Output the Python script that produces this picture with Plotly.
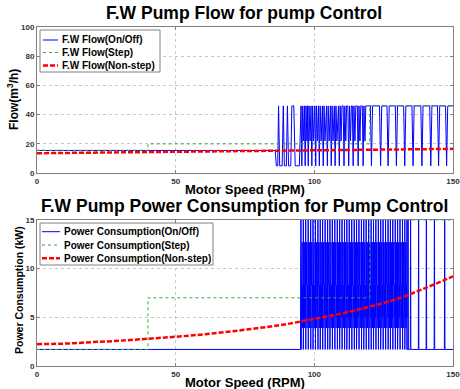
import plotly.graph_objects as go

# ---------------- data ----------------
rpm_grid = [0, 10, 20, 30, 40, 50, 60, 70, 80, 90, 100, 110, 120, 130, 140, 150]
flow_nonstep = [13.6, 13.8, 14.0, 14.2, 14.4, 14.6, 14.8, 15.0, 15.2, 15.4, 15.6, 15.8, 16.0, 16.2, 16.4, 16.6]
power_nonstep = [2.24, 2.3, 2.45, 2.6, 2.8, 3.0, 3.25, 3.55, 3.9, 4.3, 4.85, 5.4, 6.1, 6.9, 8.0, 9.2]

flow_step_x = [0, 40, 40, 120, 120, 150]
flow_step_y = [15.6, 15.6, 20.0, 20.0, 46.0, 46.0]
power_step_x = [0, 40, 40, 120, 120, 150]
power_step_y = [1.7, 1.7, 7.0, 7.0, 15.0, 15.0]

# On/Off flow: start-up section vertices
flow_start_x = [0, 85.9, 86.3, 86.8, 87.1, 87.5, 88.4, 88.8, 89.2, 89.9, 90.3, 90.7, 91.5, 91.9, 92.6, 93.1, 94.6]
flow_start_y = [15.5, 15.5, 5, 5, 46, 5, 5, 46, 5, 5, 46, 5, 5, 46, 46, 5, 5]
# dense section dips (to bottom) and partial dips
flow_dense_dips = [95.5, 96.7, 97.8, 99.1, 100.5, 101.8, 103.2, 104.7, 106.1, 107.5, 109.0,
                   110.7, 112.4, 114.0, 115.8, 117.6]
flow_partial_level = 22
# sparse section dips with flat tops
flow_sparse_dips = [120.6, 123.9, 126.6, 129.6, 132.6, 135.6, 138.8, 142.0, 144.8, 147.7]
flow_on, flow_off = 46, 5

# On/Off power
power_base = 1.7
power_dense_spikes = [95.2, 96.0, 96.9, 97.8, 98.7, 99.5, 100.4, 101.3, 102.1, 103.0, 103.9,
                      104.8, 105.6, 106.5, 107.4, 108.3, 109.1, 110.0, 110.9, 111.7, 112.6,
                      113.5, 114.4, 115.2, 116.1, 117.0, 117.8, 118.7, 119.6, 120.5, 121.3,
                      122.2, 123.1, 123.9, 124.8, 125.7, 126.6, 127.4, 128.3, 129.2, 130.0,
                      130.9, 131.8, 132.6]
# levels visited inside one cycle and their offsets (RPM) from the cycle start
power_levels = [20, 1.7, 12.7, 8.3, 12.7, 3.9, 8.3, 5.0, 20]
power_level_offsets = [0.0, 0.02, 0.05, 0.22, 0.4, 0.45, 0.62, 0.8, 0.84]
power_sparse_spikes = [133.8, 134.7, 137.6, 140.4, 143.3, 147.0]

# ---------------- build on/off polylines ----------------
fx = list(flow_start_x)
fy = list(flow_start_y)
for d in flow_dense_dips:
    fx += [d - 0.3, d, d + 0.3, d + 0.65, d + 0.95]
    fy += [flow_on, flow_off, flow_on, flow_partial_level, flow_on]
fx += [119.5]
fy += [flow_on]
for d in flow_sparse_dips:
    fx += [d - 0.4, d, d + 0.4]
    fy += [flow_on, flow_off, flow_on]
fx += [150]
fy += [flow_on]

px = [0, 95.0]
py = [power_base, power_base]
for s in power_dense_spikes:
    for off, lv in zip(power_level_offsets, power_levels):
        px.append(s + off)
        py.append(lv)
px += [133.2, 133.3]
py += [20, power_base]
for s in power_sparse_spikes:
    px += [s - 0.1, s, s + 0.1]
    py += [power_base, 20, power_base]
px.append(150)
py.append(power_base)

BLUE = "#0000ff"
GREEN = "#33aa33"
RED = "#ff0000"
RED_DASH = "5px,2px"

fig = go.Figure()
fig.add_trace(go.Scatter(x=fx, y=fy, mode="lines", line=dict(color=BLUE, width=1),
                         name="F.W Flow(On/Off)", xaxis="x", yaxis="y"))
fig.add_trace(go.Scatter(x=flow_step_x, y=flow_step_y, mode="lines",
                         line=dict(color=GREEN, width=1, dash="dot"),
                         name="F.W Flow(Step)", xaxis="x", yaxis="y"))
fig.add_trace(go.Scatter(x=rpm_grid, y=flow_nonstep, mode="lines", line_shape="spline",
                         line=dict(color=RED, width=2.5, dash=RED_DASH),
                         name="F.W Flow(Non-step)", xaxis="x", yaxis="y"))
fig.add_trace(go.Scatter(x=px, y=py, mode="lines", line=dict(color=BLUE, width=1),
                         name="Power Consumption(On/Off)", xaxis="x2", yaxis="y2"))
fig.add_trace(go.Scatter(x=power_step_x, y=power_step_y, mode="lines",
                         line=dict(color=GREEN, width=1, dash="dot"),
                         name="Power Consumption(Step)", xaxis="x2", yaxis="y2"))
fig.add_trace(go.Scatter(x=rpm_grid, y=power_nonstep, mode="lines", line_shape="spline",
                         line=dict(color=RED, width=2.5, dash=RED_DASH),
                         name="Power Consumption(Non-step)", xaxis="x2", yaxis="y2"))

FONT = "Liberation Sans, Arial, sans-serif"
W, H, ML, MR, MT, MB = 460, 389, 37, 7, 27, 23
PW, PH = W - ML - MR, H - MT - MB
tickfont = dict(family=FONT, size=8, color="#333333", weight="bold")
axis_common = dict(showline=True, linecolor="#808080", linewidth=1, mirror="ticks",
                   ticks="inside", ticklen=3, tickcolor="#808080",
                   showgrid=True, gridcolor="#c8c8c8", griddash="dot", gridwidth=1,
                   zeroline=False, tickfont=tickfont, automargin=False,
                   ticklabeloverflow="allow")

fig.update_layout(
    width=W, height=H,
    margin=dict(l=ML, r=MR, t=MT, b=MB, autoexpand=False),
    paper_bgcolor="white", plot_bgcolor="white",
    showlegend=False,
    xaxis=dict(domain=[0, 1], range=[0, 150], tickvals=[0, 50, 100, 150], anchor="y", **axis_common),
    yaxis=dict(domain=[0.569, 1], range=[0, 100], tickvals=[0, 20, 40, 60, 80, 100], anchor="x", **axis_common),
    xaxis2=dict(domain=[0, 1], range=[0, 150], tickvals=[0, 50, 100, 150], anchor="y2", **axis_common),
    yaxis2=dict(domain=[0, 0.431], range=[0, 15], tickvals=[0, 5, 10, 15], anchor="x2", **axis_common),
)


def pxx(v):
    return (v - ML) / PW


def pxy(v):
    return (H - MB - v) / PH


def text(t, x, y, size, angle=0, anchor="center"):
    fig.add_annotation(text=t, xref="paper", yref="paper", x=pxx(x), y=pxy(y),
                       xanchor=anchor, yanchor="middle", textangle=angle, showarrow=False,
                       font=dict(family=FONT, size=size, color="black", weight="bold"))


text("F.W Pump Flow for pump Control", 244, 13, 17.5)
text("F.W Pump Power Consumption for Pump Control", 244, 206, 17.5)
text("Motor Speed (RPM)", 245, 189, 13)
text("Motor Speed (RPM)", 245, 382, 13)
text("Flow(m<sup>3</sup>/h)", 13, 100, 12, angle=-90)
text("Power Consumption (kW)", 19, 290, 10.5, angle=-90)

# ---------------- legends (drawn as boxes with sample lines) ----------------
legend_specs = [
    dict(box=(40, 30, 160, 72), rows=[40, 52.5, 65.5], x0=43, x1=58, tx=60,
         names=["F.W Flow(On/Off)", "F.W Flow(Step)", "F.W Flow(Non-step)"]),
    dict(box=(40, 223, 213, 265), rows=[231.7, 245, 258.3], x0=42, x1=60, tx=62,
         names=["Power Consumption(On/Off)", "Power Consumption(Step)", "Power Consumption(Non-step)"]),
]
styles = [dict(color=BLUE, width=1), dict(color=GREEN, width=1, dash="dot"),
          dict(color=RED, width=2.5, dash=RED_DASH)]
for spec in legend_specs:
    bx0, by0, bx1, by1 = spec["box"]
    fig.add_shape(type="rect", xref="paper", yref="paper", x0=pxx(bx0), x1=pxx(bx1),
                  y0=pxy(by0), y1=pxy(by1), line=dict(color="#808080", width=1),
                  fillcolor="white", layer="above")
    for ry, nm, st in zip(spec["rows"], spec["names"], styles):
        fig.add_shape(type="line", xref="paper", yref="paper", x0=pxx(spec["x0"]), x1=pxx(spec["x1"]),
                      y0=pxy(ry), y1=pxy(ry), line=st, layer="above")
        text(nm, spec["tx"], ry, 10, anchor="left")

fig.write_html("out.html", config={"displayModeBar": False},
               post_script="document.body.style.margin='0';document.body.style.padding='0';")
